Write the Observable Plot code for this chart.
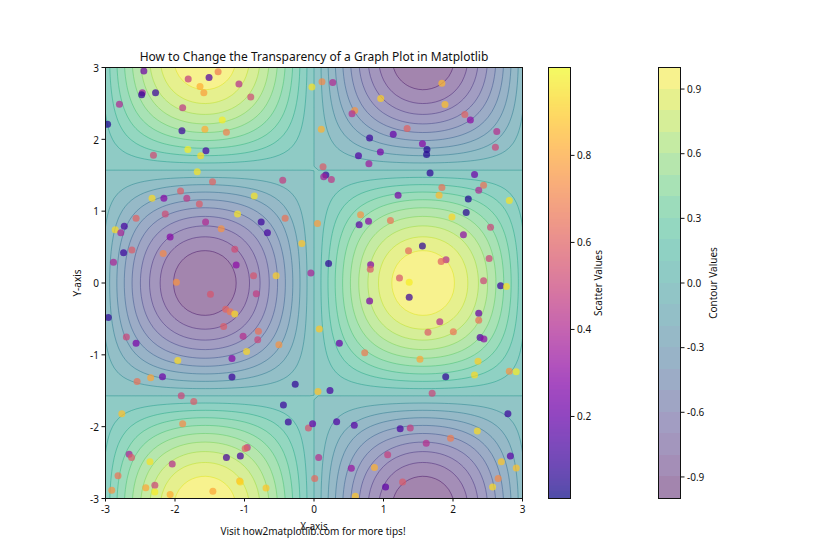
<!DOCTYPE html>
<html>
<head>
<meta charset="utf-8">
<script src="https://cdn.jsdelivr.net/npm/d3@7"></script>
<script src="https://cdn.jsdelivr.net/npm/@observablehq/plot@0.6"></script>
<style>
  html, body { margin: 0; padding: 0; background: #fff; }
  #chart { position: relative; width: 840px; height: 560px; overflow: hidden; font-family: "Noto Sans", sans-serif; }
  #chart svg { position: absolute; top: 0; background: transparent; max-width: none; }
</style>
</head>
<body>
<div id="chart"></div>
<script>
// Field profiles read along the axes, sampled every 0.0625 from 0 to 3 (mirrored for the negative side)
const xWaveHalf = [0,.0625,.1247,.1864,.2474,.3074,.3663,.4237,.4794,.5333,.5851,.6347,.6816,.7260,.7675,.8061,.8415,.8735,.9023,.9274,.9490,.9668,.9809,.9913,.9975,1,.9985,.9932,.9840,.9709,.9541,.9335,.9093,.8815,.8503,.8158,.7781,.7374,.6939,.6474,.5985,.5473,.4938,.4386,.3817,.3232,.2634,.2027,.1411];
const yWaveHalf = [1,.9980,.9922,.9825,.9689,.9516,.9305,.9058,.8776,.8459,.8110,.7728,.7317,.6877,.6410,.5918,.5403,.4870,.4312,.3744,.3153,.2554,.1945,.1329,.0707,.0083,-.0542,-.1165,-.1782,-.2393,-.2995,-.3585,-.4161,-.4721,-.5261,-.5783,-.6282,-.6755,-.7203,-.7622,-.8011,-.8369,-.8696,-.8987,-.9243,-.9463,-.9647,-.9792,-.9900];

const contourLevels = [-1,-.9,-.8,-.7,-.6,-.5,-.4,-.3,-.2,-.1,0,.1,.2,.3,.4,.5,.6,.7,.8,.9,1];
const contourTicks = [-.9,-.6,-.3,0,.3,.6,.9];
const scatterTicks = [.2,.4,.6,.8];
const axisTicks = [-3,-2,-1,0,1,2,3];

const pointX = [-2.448,-1.81,-1.51,-1.38,-1.64,-1.08,-1.585,-2.47,-2.48,-2.28,-.91,-2.80,-1.89,-2.97,-1.32,-1.90,-1.57,-1.26,-1.815,-1.555,-1.63,-2.31,-1.68,-1.46,-.45,-1.92,-2.33,-2.16,-1.83,-1.65,-.86,-2.14,-1.10,-2.56,-.415,-1.56,-.76,-2.73,-2.86,-2.78,-1.335,-.67,-2.07,-.175,-2.74,-2.62,-2.17,-1.14,-2.885,-1.12,-.045,-.87,-.545,-1.98,
  -.03,.115,.27,1.84,.96,1.885,.585,.547,2.17,2.25,.105,2.63,1.34,1.14,.80,1.56,1.625,1.62,2.61,.64,.955,.79,.13,.17,.14,.25,1.67,2.31,1.84,2.44,2.37,1.21,1.80,2.22,2.81,2.19,.67,1.985,.05,.65,.785,1.10,2.54,2.15,1.56,1.36,2.52,1.90,1.83,.815,.81,.21,1.23,2.44,
  -1.49,-.83,-2.96,-1.27,-1.205,-1.14,-1.30,-1.02,-.80,-.81,-2.70,-2.56,-.505,-.97,-1.18,-1.96,-1.18,-2.18,-2.35,-2.545,-.27,-.44,-1.91,-1.73,-2.765,-1.89,-.37,-.08,-.02,-2.66,-2.625,-2.36,-2.04,-1.26,-1.06,-.96,-.99,-2.82,-2.91,-2.42,-2.29,-2.29,-2.07,-1.455,-1.07,-1.06,-.69,
  1.37,2.685,2.77,1.37,.80,2.37,2.37,1.81,1.64,2.005,.077,.365,2.39,2.445,.73,1.525,2.36,2.31,1.895,2.81,2.91,.057,.23,1.70,2.79,.326,.58,1.24,1.385,1.965,2.35,1.615,.067,1.06,2.825,2.695,.537,.87,2.91,2.65,.01,2.57,1.275,1.03,.595];
const pointY = [2.95,2.84,2.86,2.94,2.735,2.77,2.65,2.65,2.62,2.65,2.59,2.49,2.44,2.21,2.27,2.12,2.14,2.10,1.86,1.84,1.77,1.78,1.55,1.41,1.43,1.28,1.18,1.18,1.18,1.10,1.21,.96,.96,.90,.90,.85,.85,.79,.74,.70,.755,.70,.64,.55,.42,.46,.41,.47,.29,.25,.14,.10,.10,.01,
  2.73,2.80,2.79,2.78,2.57,2.485,2.40,2.355,2.345,2.27,2.14,2.11,2.15,2.07,2.02,1.94,1.86,1.79,1.89,1.77,1.825,1.66,1.62,1.505,1.48,1.44,1.53,1.51,1.33,1.36,1.29,1.22,1.22,1.17,1.15,.98,.95,.92,.83,.81,.86,.87,.775,.67,.515,.45,.34,.325,.30,.255,.19,.27,.07,.03,
  -.155,-.15,-.48,-.365,-.40,-.43,-.605,-.74,-.67,-.79,-.75,-.84,-.86,-.955,-1.05,-1.08,-1.31,-1.305,-1.32,-1.37,-1.41,-1.70,-1.57,-1.65,-1.82,-1.96,-1.935,-2.02,-1.96,-2.385,-2.43,-2.49,-2.52,-2.43,-2.41,-2.29,-2.305,-2.685,-2.885,-2.85,-2.815,-2.91,-2.945,-2.90,-2.755,-2.77,-2.855,
  .01,-.04,-.05,-.2,-.25,-.42,-.52,-.54,-.685,-.68,-.64,-.84,-.76,-.78,-.97,-1.06,-1.09,-1.28,-1.305,-1.23,-1.235,-1.51,-1.495,-1.535,-1.82,-1.93,-1.98,-2.03,-2.02,-2.16,-2.06,-2.23,-2.43,-2.39,-2.41,-2.49,-2.58,-2.57,-2.575,-2.72,-2.72,-2.84,-2.77,-2.84,-2.97];
const pointValue = [.22,.47,.15,.68,.82,.42,.78,.35,.08,.1,.52,.4,.45,.05,.97,.1,.82,.7,.97,.12,.93,.52,.95,.6,.47,.58,.93,.28,.45,.57,.95,.52,.95,.6,.65,.4,.1,.12,.93,.38,.75,.12,.28,.88,.1,.58,.72,.52,.38,.3,.38,.55,.9,.75,
  .95,.72,.4,.85,.9,.87,.75,.42,.6,.3,.83,.42,.6,.2,.1,.28,.05,.05,.5,.15,.25,.35,.58,.1,.36,.45,.07,.22,.65,.65,.4,.25,.85,.05,.95,.06,.75,.92,.77,.18,.28,.66,.5,.3,.07,.62,.5,.42,.6,.28,.58,.07,.55,.5,
  .55,.47,.07,.6,.68,.93,.58,.42,.65,.5,.5,.25,.75,.92,.28,.93,.1,.22,.8,.65,.08,.1,.5,.57,.87,.73,.1,.55,.2,.38,.58,.95,.42,.12,.13,.45,.6,.66,.75,.8,.5,.97,.82,.8,.85,.92,.88,
  .97,.1,.93,.1,.25,.2,.65,.42,.58,.66,.88,.2,.15,.3,.68,.8,.9,.93,.07,.75,.97,.87,.12,.5,.1,.15,.17,.13,.47,.68,.93,.42,.42,.48,.17,.88,.33,.83,.87,.72,.62,.93,.57,.18,.88];

// Contour field on the sampled grid
const xWave = [...xWaveHalf.slice(1).reverse().map(v => -v), ...xWaveHalf];
const yWave = [...yWaveHalf.slice(1).reverse(), ...yWaveHalf];
const field = yWave.flatMap(v => xWave.map(u => u * v));
const gridN = xWave.length;
const half = 0.03125;

const alphaBand = 0.5;
const blendWhite = (c, a) => {
  const rgb = d3.rgb(c);
  return d3.rgb(rgb.r*a + 255*(1-a), rgb.g*a + 255*(1-a), rgb.b*a + 255*(1-a)).formatHex();
};
const bandColor = l => blendWhite(d3.interpolateViridis((l + 0.05 + 1) / 2), alphaBand);
const lineColor = l => d3.interpolateViridis((l + 1) / 2);
const textColor = "#111";
const fontFamily = '"Noto Sans", sans-serif';
const hyphen = f => d => f(d).replace("\u2212", "-");

const gridOpts = {width: gridN, height: gridN, x1: -3 - half, x2: 3 + half, y1: -3 - half, y2: 3 + half, clip: true};
const bandMarks = contourLevels.slice(0, -1).map(l =>
  Plot.contour(field, {...gridOpts, thresholds: [l], fill: bandColor(l), stroke: "none"}));
const lineMarks = contourLevels.slice(1, -1).map(l =>
  Plot.contour(field, {...gridOpts, thresholds: [l], fill: "none", stroke: lineColor(l), strokeWidth: 1, strokeOpacity: 0.5}));

const main = Plot.plot({
  width: 840, height: 560,
  marginLeft: 105, marginRight: 318, marginTop: 67, marginBottom: 62,
  style: {background: "transparent", fontFamily, fontSize: "10px", color: textColor},
  x: {domain: [-3, 3]},
  y: {domain: [-3, 3]},
  color: {type: "linear", scheme: "plasma", domain: [0.0115, 1.002]},
  marks: [
    ...bandMarks,
    ...lineMarks,
    Plot.dot(pointX, {x: pointX, y: pointY, fill: pointValue, r: 3.5, fillOpacity: 0.72, stroke: "none", clip: true}),
    Plot.frame({stroke: "#111", strokeWidth: 1}),
    Plot.axisX({ticks: axisTicks, text: null, tickSize: 3.5, label: "X-axis", labelAnchor: "center", labelArrow: "none", labelOffset: 31, stroke: "#111"}),
    Plot.axisX({ticks: axisTicks, tickFormat: d => String(d), tickSize: 0, tickPadding: 6.5, label: null, dy: 1}),
    Plot.axisY({ticks: axisTicks, text: null, tickSize: 3.5, label: "Y-axis", labelAnchor: "center", labelArrow: "none", labelOffset: 32, stroke: "#111"}),
    Plot.axisY({ticks: axisTicks, tickFormat: d => String(d), tickSize: 0, tickPadding: 6.5, label: null, dy: 1}),
    Plot.text(["How to Change the Transparency of a Graph Plot in Matplotlib"], {frameAnchor: "top", dy: -15, fontSize: 12, fill: textColor}),
    Plot.text(["Visit how2matplotlib.com for more tips!"], {frameAnchor: "bottom", dy: 36, dx: -1, fontSize: 10, fill: textColor})
  ]
});
main.style.left = "0px";

function colorbar({left, domain, ticks, label, labelOffset, rects, format}) {
  const bar = Plot.plot({
    width: 120, height: 560,
    marginLeft: 0, marginRight: 98, marginTop: 67, marginBottom: 62,
    style: {background: "transparent", fontFamily, fontSize: "10px", color: textColor},
    x: {domain: [0, 1], axis: null},
    y: {domain, axis: null},
    marks: [
      rects,
      Plot.frame({stroke: "#111", strokeWidth: 1}),
      Plot.axisY({anchor: "right", ticks, text: null, tickSize: 3.5, label, labelAnchor: "center", labelArrow: "none", labelOffset, stroke: "#111"}),
      Plot.axisY({anchor: "right", ticks, tickFormat: format, tickSize: 0, tickPadding: 6.5, label: null, dy: 0.5})
    ]
  });
  bar.style.left = left + "px";
  return bar;
}

// Scatter colorbar
const scatterDomain = [0.0115, 1.002];
const rampSteps = d3.range(0, 256).map(i => scatterDomain[0] + (scatterDomain[1] - scatterDomain[0]) * i / 256);
const rampStep = (scatterDomain[1] - scatterDomain[0]) / 256;
const plasmaT = v => (v - scatterDomain[0]) / (scatterDomain[1] - scatterDomain[0]);
const scatterBar = colorbar({
  left: 548, domain: scatterDomain, ticks: scatterTicks, label: "Scatter Values", labelOffset: 31,
  format: hyphen(d3.format(".1f")),
  rects: Plot.rect(rampSteps, {
    x1: 0, x2: 1, y1: d => d, y2: d => d + rampStep,
    fill: d => blendWhite(d3.interpolatePlasma(plasmaT(d)), 0.72), shapeRendering: "crispEdges"
  })
});

// Contour colorbar
const bands = contourLevels.slice(0, -1);
const contourBar = colorbar({
  left: 658, domain: [-1, 1], ticks: contourTicks, label: "Contour Values", labelOffset: 36,
  format: hyphen(d3.format(".1f")),
  rects: Plot.rect(bands, {
    x1: 0, x2: 1, y1: d => d, y2: d => d + 0.1,
    fill: d => bandColor(d), shapeRendering: "crispEdges"
  })
});

const root = document.getElementById("chart");
root.append(main, scatterBar, contourBar);
</script>
</body>
</html>
